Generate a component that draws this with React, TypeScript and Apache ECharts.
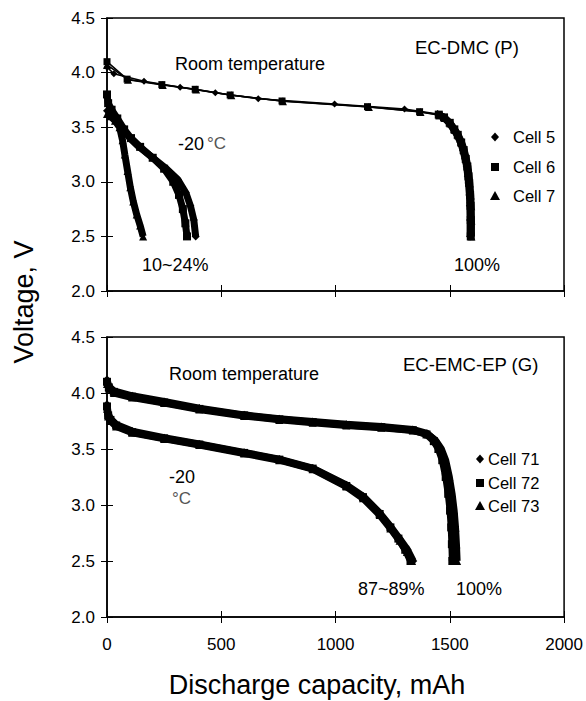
import React, { useEffect, useRef } from "react";
import * as echarts from "echarts";

const FONT = '"Liberation Sans", Arial, sans-serif';

const xTickLabels = ["0", "500", "1000", "1500", "2000"];
const yTickLabels = ["2.0", "2.5", "3.0", "3.5", "4.0", "4.5"];

// ---- Top panel: EC-DMC (P) ----
// Room temperature, sparse-marker part
const dmcRtCell5 = [[0, 4.05], [30, 3.99], [162, 3.92], [320, 3.865], [474, 3.816], [662, 3.761], [996, 3.712], [1302, 3.667], [1447, 3.62]];
const dmcRtCell6 = [[0, 4.1], [88, 3.94], [240, 3.89], [386, 3.847], [539, 3.795], [766, 3.74], [1140, 3.688], [1368, 3.642], [1452, 3.615]];
const dmcRtCell7 = [[0, 4.07], [92, 3.935], [244, 3.887], [390, 3.845], [544, 3.793], [770, 3.738], [1146, 3.686], [1372, 3.64], [1455, 3.61]];
// Room temperature, dense end of discharge
const dmcRtTailCell5 = [[1447, 3.62], [1470, 3.595], [1497, 3.54], [1517, 3.48], [1532, 3.43], [1547, 3.36], [1558, 3.29], [1567, 3.21], [1574, 3.14], [1579, 3.05], [1582, 2.99], [1586, 2.88], [1588, 2.78], [1589, 2.65], [1589, 2.5]];
const dmcRtTailCell6 = [[1452, 3.615], [1475, 3.59], [1500, 3.54], [1520, 3.48], [1535, 3.43], [1550, 3.36], [1561, 3.29], [1570, 3.21], [1577, 3.14], [1582, 3.05], [1585, 2.99], [1589, 2.88], [1591, 2.78], [1592, 2.65], [1592, 2.5]];
const dmcRtTailCell7 = [[1455, 3.61], [1478, 3.585], [1503, 3.535], [1523, 3.475], [1538, 3.425], [1553, 3.355], [1564, 3.285], [1573, 3.205], [1580, 3.135], [1585, 3.045], [1588, 2.985], [1592, 2.875], [1594, 2.775], [1595, 2.645], [1595, 2.5]];
// -20 °C
const dmcLowCell5 = [[0, 3.65], [15, 3.63], [40, 3.58], [70, 3.48], [100, 3.4], [140, 3.32], [200, 3.22], [260, 3.12], [310, 3.02], [345, 2.9], [365, 2.78], [380, 2.65], [388, 2.5]];
const dmcLowCell6 = [[0, 3.8], [5, 3.72], [20, 3.66], [45, 3.58], [75, 3.48], [105, 3.4], [145, 3.32], [200, 3.22], [250, 3.12], [290, 3.0], [315, 2.88], [332, 2.75], [343, 2.62], [350, 2.5]];
const dmcLowCell7 = [[0, 3.62], [15, 3.6], [35, 3.56], [55, 3.5], [68, 3.38], [78, 3.25], [90, 3.1], [102, 2.95], [115, 2.82], [130, 2.7], [145, 2.6], [158, 2.5]];

// ---- Bottom panel: EC-EMC-EP (G) ----
const epRtCell71 = [[0, 4.12], [8, 4.06], [30, 4.02], [110, 3.975], [250, 3.925], [404, 3.865], [600, 3.805], [754, 3.77], [900, 3.745], [1047, 3.72], [1200, 3.7], [1338, 3.675], [1400, 3.64], [1435, 3.58], [1458, 3.5], [1476, 3.4], [1492, 3.25], [1503, 3.1], [1512, 2.95], [1518, 2.8], [1522, 2.65], [1525, 2.5]];
const epRtCell72 = [[0, 4.1], [8, 4.05], [30, 4.01], [110, 3.967], [250, 3.915], [404, 3.858], [600, 3.8], [754, 3.765], [900, 3.74], [1047, 3.715], [1200, 3.695], [1338, 3.668], [1398, 3.63], [1430, 3.57], [1450, 3.5], [1467, 3.4], [1482, 3.25], [1493, 3.1], [1501, 2.95], [1506, 2.8], [1509, 2.65], [1511, 2.5]];
const epRtCell73 = [[0, 4.08], [8, 4.04], [30, 4.0], [110, 3.96], [250, 3.91], [404, 3.852], [600, 3.795], [754, 3.76], [900, 3.735], [1047, 3.71], [1200, 3.69], [1338, 3.665], [1405, 3.63], [1440, 3.57], [1463, 3.5], [1482, 3.4], [1498, 3.25], [1510, 3.1], [1519, 2.95], [1525, 2.8], [1529, 2.65], [1532, 2.5]];
const epLowCell71 = [[0, 3.9], [5, 3.82], [15, 3.77], [40, 3.72], [110, 3.66], [250, 3.6], [404, 3.545], [600, 3.47], [754, 3.41], [900, 3.33], [1047, 3.18], [1120, 3.08], [1193, 2.93], [1240, 2.81], [1280, 2.7], [1315, 2.6], [1340, 2.5]];
const epLowCell72 = [[0, 3.88], [5, 3.8], [15, 3.76], [40, 3.71], [110, 3.65], [250, 3.595], [404, 3.54], [600, 3.465], [754, 3.405], [900, 3.325], [1047, 3.17], [1120, 3.07], [1193, 2.92], [1240, 2.8], [1275, 2.7], [1305, 2.6], [1328, 2.5]];
const epLowCell73 = [[0, 3.86], [5, 3.79], [15, 3.75], [40, 3.7], [110, 3.645], [250, 3.59], [404, 3.535], [600, 3.46], [754, 3.4], [900, 3.32], [1047, 3.165], [1120, 3.06], [1193, 2.91], [1240, 2.79], [1280, 2.68], [1312, 2.58], [1335, 2.5]];

const topLegend = ["Cell 5", "Cell 6", "Cell 7"];
const bottomLegend = ["Cell 71", "Cell 72", "Cell 73"];
const markers = ["diamond", "rect", "triangle"];

function xAxes(gridIndex: number, showLabels: boolean) {
  const base = { type: "value", gridIndex, min: 0, max: 2000, interval: 500, position: "bottom", splitLine: { show: false } };
  return [
    {
      ...base,
      axisLine: { show: true, onZero: false, lineStyle: { color: "#000", width: 1.5 } },
      axisTick: { show: true, inside: false, length: 6, lineStyle: { color: "#000", width: 1 } },
      axisLabel: {
        show: showLabels, margin: 19, fontSize: 17, color: "#000", fontFamily: FONT,
        formatter: (v: number) => xTickLabels[Math.round(v / 500)],
      },
    },
    {
      ...base,
      axisLine: { show: false },
      axisTick: { show: true, inside: true, length: 6, lineStyle: { color: "#000", width: 1 } },
      axisLabel: { show: false },
    },
  ];
}

function yAxes(gridIndex: number) {
  const base = { type: "value", gridIndex, min: 2, max: 4.5, interval: 0.5, position: "left", splitLine: { show: false } };
  return [
    {
      ...base,
      axisLine: { show: true, onZero: false, lineStyle: { color: "#000", width: 1.5 } },
      axisTick: { show: true, inside: false, length: 6, lineStyle: { color: "#000", width: 1 } },
      axisLabel: {
        show: true, margin: 12, fontSize: 17, color: "#000", fontFamily: FONT,
        formatter: (v: number) => yTickLabels[Math.round((v - 2) / 0.5)],
      },
    },
    {
      ...base,
      axisLine: { show: false },
      axisTick: { show: true, inside: true, length: 6, lineStyle: { color: "#000", width: 1 } },
      axisLabel: { show: false },
    },
  ];
}

function line(name: string, data: number[][], axis: number, symbol: string, symbolSize: number, width: number) {
  return {
    type: "line",
    name,
    data,
    xAxisIndex: axis,
    yAxisIndex: axis,
    symbol,
    symbolSize,
    showSymbol: true,
    showAllSymbol: true,
    lineStyle: { color: "#000", width },
    itemStyle: { color: "#000" },
    silent: true,
  };
}

function text(t: string, x: number, y: number, size: number, extra: any = {}) {
  return {
    type: "text",
    x,
    y,
    silent: true,
    ...extra,
    style: {
      text: t,
      fill: extra.fill || "#000",
      font: `${size}px ${FONT}`,
      textAlign: extra.align || "left",
      textVerticalAlign: "middle",
      align: extra.align || "left",
      verticalAlign: "middle",
    },
  };
}

function marker(kind: string, x: number, y: number) {
  if (kind === "diamond") {
    return { type: "polygon", x, y, silent: true, shape: { points: [[0, -4.5], [4, 0], [0, 4.5], [-4, 0]] }, style: { fill: "#000" } };
  }
  if (kind === "rect") {
    return { type: "rect", x, y, silent: true, shape: { x: -4, y: -4, width: 8, height: 8 }, style: { fill: "#000" } };
  }
  return { type: "polygon", x, y, silent: true, shape: { points: [[0, -5], [5, 4], [-5, 4]] }, style: { fill: "#000" } };
}

export default function App() {
  const ref = useRef<HTMLDivElement>(null);
  useEffect(() => {
    if (!ref.current) return;
    const chart = echarts.init(ref.current, undefined, { renderer: "svg" });

    const graphics: any[] = [
      text("Room temperature", 175, 64, 18),
      text("EC-DMC (P)", 415, 47, 18.5),
      text("-20", 178, 144, 18),
      text("°C", 207, 143, 17, { fill: "#555" }),
      text("10~24%", 142, 265, 18),
      text("100%", 454, 265, 18),
      text("Room temperature", 169, 374, 18),
      text("EC-EMC-EP (G)", 403, 364, 18.5),
      text("-20", 169, 477, 18),
      text("°C", 172, 498, 17, { fill: "#555" }),
      text("87~89%", 358, 589, 18),
      text("100%", 456, 589, 18),
      text("Voltage, V", 24, 302, 27, { align: "center", rotation: Math.PI / 2 }),
      text("Discharge capacity, mAh", 317, 685, 27, { align: "center" }),
    ];
    const topY = [137, 167, 196];
    const botY = [459, 483, 506];
    topLegend.forEach((n, i) => {
      graphics.push(marker(markers[i], 495, topY[i]));
      graphics.push(text(n, 513, topY[i], 16.5));
    });
    bottomLegend.forEach((n, i) => {
      graphics.push(marker(markers[i], 480, botY[i]));
      graphics.push(text(n, 488, botY[i], 16.5));
    });

    chart.setOption({
      animation: false,
      backgroundColor: "#fff",
      textStyle: { fontFamily: FONT },
      grid: [
        { left: 107, top: 18, width: 457, height: 273, show: true, borderColor: "#000", borderWidth: 1.5, backgroundColor: "transparent" },
        { left: 107, top: 337, width: 458, height: 280, show: true, borderColor: "#000", borderWidth: 1.5, backgroundColor: "transparent" },
      ],
      xAxis: [...xAxes(0, false), ...xAxes(1, true)],
      yAxis: [...yAxes(0), ...yAxes(1)],
      series: [
        line("Cell 5", dmcRtCell5, 0, "diamond", 7, 1.5),
        line("Cell 6", dmcRtCell6, 0, "rect", 7, 1.5),
        line("Cell 7", dmcRtCell7, 0, "triangle", 8, 1.5),
        line("Cell 5", dmcRtTailCell5, 0, "diamond", 8, 7),
        line("Cell 6", dmcRtTailCell6, 0, "rect", 8, 7),
        line("Cell 7", dmcRtTailCell7, 0, "triangle", 8, 7),
        line("Cell 5", dmcLowCell5, 0, "diamond", 8, 7),
        line("Cell 6", dmcLowCell6, 0, "rect", 8, 7),
        line("Cell 7", dmcLowCell7, 0, "triangle", 8, 7),
        line("Cell 71", epRtCell71, 2, "diamond", 8, 7),
        line("Cell 72", epRtCell72, 2, "rect", 8, 7),
        line("Cell 73", epRtCell73, 2, "triangle", 8, 7),
        line("Cell 71", epLowCell71, 2, "diamond", 8, 7),
        line("Cell 72", epLowCell72, 2, "rect", 8, 7),
        line("Cell 73", epLowCell73, 2, "triangle", 8, 7),
      ],
      graphic: graphics,
    });
    return () => chart.dispose();
  }, []);
  return <div ref={ref} style={{ position: "fixed", left: 0, top: 0, width: 586, height: 701, background: "#fff" }} />;
}
